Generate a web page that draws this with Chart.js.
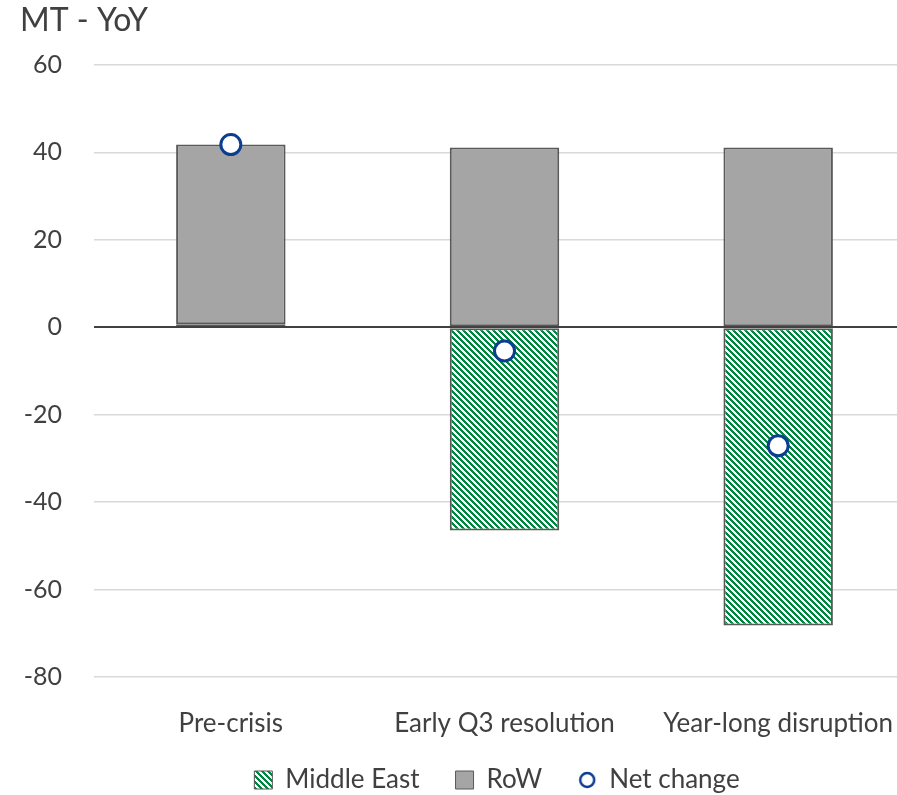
<!DOCTYPE html>
<html>
<head>
<meta charset="utf-8">
<script src="https://cdn.jsdelivr.net/npm/chart.js@4/dist/chart.umd.min.js"></script>
<style>
  html, body { margin: 0; padding: 0; background: #ffffff; overflow: hidden; }
  #wrap { width: 930px; height: 795px; }
</style>
</head>
<body>
<div id="wrap"><canvas id="c" width="930" height="795"></canvas></div>
<script>
// Scenario categories
const categories = ['Pre-crisis', 'Early Q3 resolution', 'Year-long disruption'];
// Year-on-year change, MT
const middleEast = [0.7, -46.5, -68.2];
const restOfWorld = [41.1, 41.1, 41.1];
const netChange = [41.8, -5.4, -27.1];
// Value axis
const yMin = -80;
const yMax = 60;
const yStep = 20;
const unitLabel = 'MT - YoY';

const TEXT = '#404040';
const GREEN = [0, 135, 63];
const GREY = '#A5A5A5';
const EDGE = '#595959';
const NAVY = '#0B3D91';
const FONT = 'Lato, "Open Sans", sans-serif';

// Crisp diagonal green/white hatch for the Middle East series
function makeHatch() {
  const s = 6;
  const c = document.createElement('canvas');
  c.width = s; c.height = s;
  const g = c.getContext('2d');
  const img = g.createImageData(s, s);
  for (let y = 0; y < s; y++) {
    for (let x = 0; x < s; x++) {
      const green = ((x - y) % s + s) % s < 3;
      const i = (y * s + x) * 4;
      img.data[i] = green ? GREEN[0] : 255;
      img.data[i + 1] = green ? GREEN[1] : 255;
      img.data[i + 2] = green ? GREEN[2] : 255;
      img.data[i + 3] = 255;
    }
  }
  g.putImageData(img, 0, 0);
  return g.createPattern(c, 'repeat');
}

// Hollow circle shown in the legend for the net change series
function makeLegendDot() {
  const c = document.createElement('canvas');
  c.width = 20; c.height = 20;
  const g = c.getContext('2d');
  g.beginPath();
  g.arc(10, 10, 7, 0, Math.PI * 2);
  g.fillStyle = '#ffffff';
  g.fill();
  g.lineWidth = 2.5;
  g.strokeStyle = NAVY;
  g.stroke();
  return c;
}

const hatch = makeHatch();
const legendDot = makeLegendDot();

// Unit caption in the top-left corner, plus legend and label-area placement
const captionPlugin = {
  id: 'caption',
  afterLayout(chart) {
    const lg = chart.legend;
    if (lg) {
      const shift = 497 - (lg.left + lg.right) / 2;
      lg.left += shift;
      lg.right += shift;
      const h = lg.bottom - lg.top;
      lg.top = 780 - 13 - lg.options.labels.padding;
      lg.bottom = lg.top + h;
    }
    // let the category labels use the room down to the legend
    chart.scales.x.bottom = 760;
  },
  afterDraw(chart) {
    const ctx = chart.ctx;
    ctx.save();
    ctx.font = '32px ' + FONT;
    ctx.fillStyle = TEXT;
    ctx.textBaseline = 'alphabetic';
    ctx.textAlign = 'left';
    ctx.fillText(unitLabel, 20, 31);
    ctx.restore();
  }
};

new Chart(document.getElementById('c'), {
  type: 'bar',
  data: {
    labels: categories,
    datasets: [
      {
        label: 'Middle East',
        data: middleEast,
        backgroundColor: hatch,
        borderColor: EDGE,
        borderWidth: 2,
        borderSkipped: false,
        inflateAmount: 0,
        pointStyle: 'rect',
        stack: 'supply',
        order: 1
      },
      {
        label: 'RoW',
        data: restOfWorld,
        backgroundColor: GREY,
        borderColor: EDGE,
        borderWidth: 2,
        borderSkipped: false,
        inflateAmount: 0,
        pointStyle: 'rect',
        stack: 'supply',
        order: 1
      },
      {
        type: 'line',
        label: 'Net change',
        data: netChange,
        showLine: false,
        pointStyle: 'circle',
        pointRadius: 10,
        pointHoverRadius: 10,
        pointBorderWidth: 3,
        pointBackgroundColor: '#ffffff',
        pointBorderColor: NAVY,
        borderColor: NAVY,
        backgroundColor: '#ffffff',
        stack: 'net',
        order: 0
      }
    ]
  },
  options: {
    responsive: false,
    devicePixelRatio: 1,
    animation: false,
    layout: { padding: { left: 0, right: 15, top: 65, bottom: 0 } },
    datasets: { bar: { barPercentage: 0.4, categoryPercentage: 1.0 } },
    scales: {
      x: {
        stacked: true,
        offset: true,
        grid: { display: false, drawTicks: false },
        border: { display: false },
        ticks: {
          color: TEXT,
          font: { family: FONT, size: 26 },
          padding: 31,
          maxRotation: 0,
          autoSkip: false
        },
        afterFit(scale) { scale.height = 46; }
      },
      y: {
        stacked: true,
        min: yMin,
        max: yMax,
        border: { display: false },
        grid: {
          drawTicks: false,
          color: (c) => (c.tick && c.tick.value === 0 ? '#404040' : '#D9D9D9'),
          lineWidth: (c) => (c.tick && c.tick.value === 0 ? 2 : 1.5)
        },
        ticks: {
          stepSize: yStep,
          color: TEXT,
          font: { family: FONT, size: 25 },
          padding: 32
        },
        afterFit(scale) { scale.width = 94; }
      }
    },
    plugins: {
      title: { display: false },
      tooltip: { enabled: false },
      legend: {
        position: 'bottom',
        align: 'center',
        labels: {
          color: TEXT,
          font: { family: FONT, size: 26 },
          usePointStyle: true,
          boxWidth: 18,
          boxHeight: 18,
          padding: 36,
          sort: (a, b) => a.datasetIndex - b.datasetIndex,
          generateLabels(chart) {
            const items = Chart.defaults.plugins.legend.labels.generateLabels(chart);
            items.forEach((it) => {
              it.fontColor = TEXT;
              if (it.text === 'Net change') {
                it.pointStyle = legendDot;
              } else {
                it.lineWidth = 1;
              }
            });
            return items;
          }
        }
      }
    }
  },
  plugins: [captionPlugin]
});
</script>
</body>
</html>
